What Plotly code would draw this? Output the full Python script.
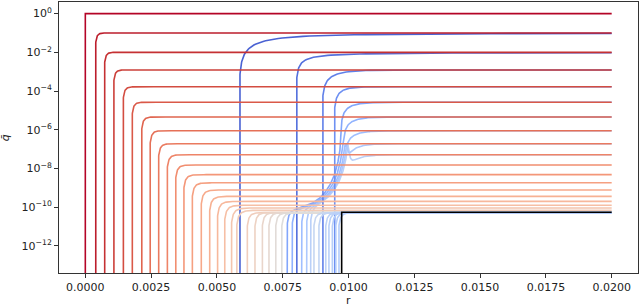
import numpy as np
import plotly.graph_objects as go

# ---------------- data ----------------
# red family: front position, plateau exponent (log10 q), knee width
red_r0 = [0.0, 0.00037, 0.00071, 0.00106, 0.00142, 0.00176, 0.00212, 0.00244, 0.00276,
          0.00309, 0.00341, 0.00372, 0.00404, 0.00438, 0.00470, 0.00500, 0.00527, 0.00553, 0.00573]
red_level = [0.0, -1.0, -2.0, -2.91, -3.78, -4.58, -5.34, -6.05, -6.72,
             -7.29, -7.82, -8.32, -8.74, -9.11, -9.44, -9.70, -9.90, -10.04, -10.16]
red_knee = [1e-9, 7e-5, 7.5e-5, 8e-5, 8.5e-5, 9e-5, 9.5e-5, 1.0e-4, 1.05e-4,
            1.1e-4, 1.15e-4, 1.2e-4, 1.25e-4, 1.3e-4, 1.35e-4, 1.4e-4, 1.45e-4, 1.5e-4, 1.5e-4]

# grey / light-blue family: fronts with a low plateau
grey_r0 = [0.00613, 0.00642, 0.00670, 0.00695, 0.00721, 0.00744, 0.00866,
           0.00885, 0.00911, 0.00923, 0.00936, 0.00949, 0.00961]
grey_level = -10.28
grey_knee = 1.2e-4

# blue family: second front rising to the red plateaus
blue_r0 = [0.00585, 0.00801, 0.00900, 0.00945, 0.00970, 0.00979, 0.00987, 0.00993, 0.00998]
blue_level = [-1.0, -2.0, -2.91, -3.78, -4.58, -5.34, -6.05, -6.72, -7.29]
blue_width = [1.4e-3, 5.3e-4, 6.0e-4, 3.2e-4, 4.0e-4, 4.0e-4, 4.0e-4, 4.0e-4, 4.0e-4]
blue_tail_power = [1.25, 1.0, 0, 0, 0, 0, 0, 0, 0]   # 0 = exponential approach
blue_low_front = [None, None, None, None, 0.00765, 0.00784, 0.00820, 0.00839, 0.00854]
blue_precursor = -6.75   # log10 q of the precursor at the second front
precursor_scale = 1.0e-4

# black reference step
black_r0 = 0.00974
black_level = -10.26

r_end = 0.02
x_ticks = [0.0, 0.0025, 0.005, 0.0075, 0.01, 0.0125, 0.015, 0.0175, 0.02]
y_tick_exp = [0, -2, -4, -6, -8, -10, -12]

# ---------------- colormap (matplotlib coolwarm) ----------------
CW = [(0.2298057, 0.298717966, 0.753683153), (0.26623388, 0.353094838, 0.801466763),
      (0.30386891, 0.406535296, 0.84495867), (0.342804478, 0.458757618, 0.883725899),
      (0.38301334, 0.50941904, 0.917387822), (0.424369608, 0.558148092, 0.945619588),
      (0.46666708, 0.604562568, 0.968154911), (0.509635204, 0.648280772, 0.98478814),
      (0.552953156, 0.688929332, 0.995375608), (0.596262162, 0.726149107, 0.999836203),
      (0.639176211, 0.759599947, 0.998151185), (0.681291281, 0.788964712, 0.990363227),
      (0.722193294, 0.813952739, 0.976574709), (0.761464949, 0.834302879, 0.956945269),
      (0.798691636, 0.849786142, 0.931688648), (0.833466556, 0.860207984, 0.901068838),
      (0.865395197, 0.86541021, 0.865395561), (0.897787179, 0.848937047, 0.820880546),
      (0.924127593, 0.827384882, 0.774508472), (0.944468518, 0.800927443, 0.726736146),
      (0.958852946, 0.769767752, 0.678007945), (0.96732803, 0.734132809, 0.628751763),
      (0.969954137, 0.694266682, 0.579375448), (0.966811177, 0.650421156, 0.530263762),
      (0.958003065, 0.602842431, 0.481775914), (0.943660866, 0.551750968, 0.434243684),
      (0.923944917, 0.49730856, 0.387970225), (0.89904617, 0.439559467, 0.343229596),
      (0.869186849, 0.378313092, 0.300267182), (0.834620542, 0.312874446, 0.259301199),
      (0.795631745, 0.24128379, 0.220525627), (0.752534934, 0.157246067, 0.184115123),
      (0.705673158, 0.01555616, 0.150232812)]


def cw(t):
    t = min(max(t, 0.0), 1.0) * (len(CW) - 1)
    i = min(int(t), len(CW) - 2)
    f = t - i
    c = [CW[i][j] * (1 - f) + CW[i + 1][j] * f for j in range(3)]
    return "rgb(%d,%d,%d)" % tuple(int(round(255 * v)) for v in c)


def front_grid(r0, scale, n=400):
    d = scale * np.geomspace(1e-16, max((r_end - r0) / scale, 1.0), n)
    r = r0 + d
    r = r[r <= r_end]
    return np.append(r, r_end)


def rise(x, power=0):
    # fraction of the plateau reached a scaled distance x behind a front
    if power:
        y = x ** power
        return y / (1 + y)
    return -np.expm1(-x)


def step_curve(r0, level, w):
    r = front_grid(r0, w)
    q = 10.0 ** level * rise((r - r0) / w)
    return r, q


LW = 1.6
fig = go.Figure()


def add(r, q, color):
    fig.add_trace(go.Scatter(x=r, y=q, mode="lines", line=dict(color=color, width=LW),
                             hoverinfo="skip", showlegend=False))


# blue family (drawn first, lightest first)
nb = len(blue_r0)
blue_t = [0.05, 0.08, 0.12, 0.16, 0.22, 0.26, 0.30, 0.34, 0.38]
for k in reversed(range(nb)):
    rk, L, w, rb = blue_r0[k], blue_level[k], blue_width[k], blue_low_front[k]
    pw = blue_tail_power[k]
    if rb is None:
        r = front_grid(rk, w)
        q = 10.0 ** L * rise((r - rk) / w, pw)
    else:
        parts = [front_grid(rb, grey_knee, 300), front_grid(rk, w, 300),
                 rk - np.geomspace(1e-8, rk - rb, 150), np.linspace(rb, r_end, 400)[1:]]
        r = np.unique(np.concatenate(parts))
        r = r[(r > rb) & (r <= r_end)]
        low = rise((r - rb) / grey_knee)
        pre = 10.0 ** blue_precursor * (precursor_scale / (np.abs(r - rk) + precursor_scale)) ** 3
        q = low * (10.0 ** grey_level + pre) + 10.0 ** L * rise(np.clip(r - rk, 0, None) / w, pw)
    add(r, q, cw(blue_t[k]))

# grey family
for r0 in grey_r0:
    t = 0.59 - (r0 - 0.0061) / (0.0097 - 0.0061) * 0.24
    r, q = step_curve(r0, grey_level, grey_knee)
    add(r, q, cw(t))

# red family (light first, dark on top)
nr = len(red_r0)
for i in reversed(range(nr)):
    t = 1.0 - i * 0.4 / (nr - 1)
    r, q = step_curve(red_r0[i], red_level[i], red_knee[i])
    add(r, q, cw(t))

# black step
r, q = step_curve(black_r0, black_level, 1e-9)
add(r, q, "black")

axis_common = dict(showline=True, mirror=True, linecolor="#333", linewidth=1,
                   ticks="outside", ticklen=4, tickwidth=1, tickcolor="#333",
                   showgrid=False, zeroline=False, automargin=False,
                   tickfont=dict(family="DejaVu Sans", size=11, color="#222"))

fig.update_layout(
    width=640, height=306,
    margin=dict(l=59, r=2, t=2, b=33),
    paper_bgcolor="white", plot_bgcolor="white",
    xaxis=dict(range=[-0.001, 0.021], tickvals=x_ticks,
               ticktext=["%.4f" % v for v in x_ticks], **axis_common),
    yaxis=dict(type="log", range=[-13.4, 0.6], tickvals=[10.0 ** e for e in y_tick_exp],
               ticktext=["10<sup>%s</sup>" % (str(e).replace("-", "\u2212")) for e in y_tick_exp],
               **axis_common),
    annotations=[
        dict(text="r", xref="paper", yref="paper", x=0.5, y=-0.1, xanchor="center",
             yanchor="middle", showarrow=False,
             font=dict(family="DejaVu Sans", size=11, color="#222")),
        dict(text="<i>q\u0304</i>", xref="paper", yref="paper", x=-0.092, y=0.5,
             xanchor="center", yanchor="middle", textangle=-90, showarrow=False,
             font=dict(family="DejaVu Sans", size=11, color="#222")),
    ],
)

fig.write_html("out.html", config={"displayModeBar": False},
               post_script="document.body.style.margin='0';document.body.style.padding='0';")
